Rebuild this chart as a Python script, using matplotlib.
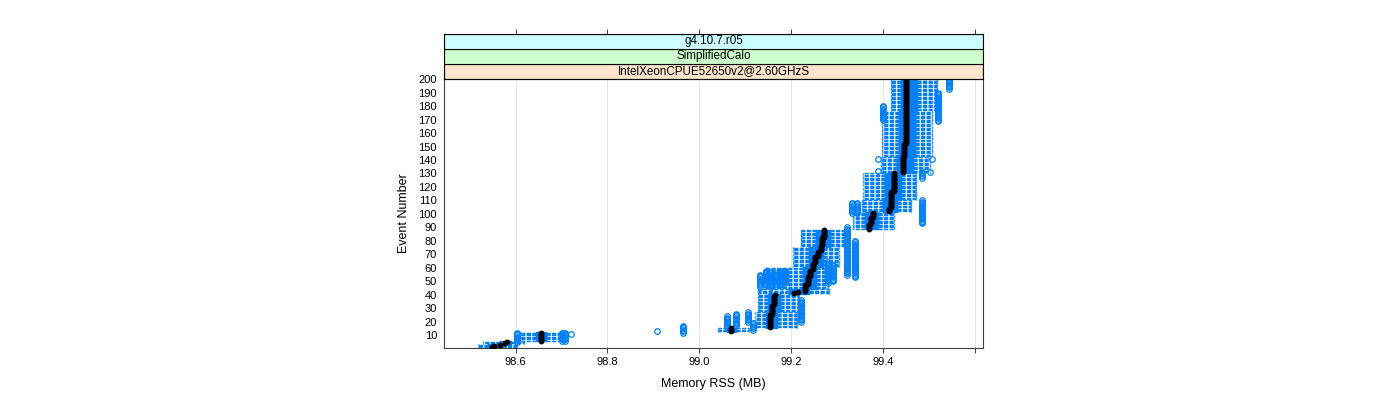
import numpy as np
import matplotlib.pyplot as plt
from matplotlib.collections import LineCollection

plt.rcParams['font.family'] = ['Liberation Sans', 'DejaVu Sans']
plt.rcParams['lines.scale_dashes'] = False

# median memory per event, stored as runs (value, number of events)
med_values = [98.548, 98.553, 98.565, 98.577, 98.580, 98.655, 99.070, 99.155, 99.158,
              99.162, 99.165, 99.206, 99.216, 99.231, 99.236, 99.241, 99.247, 99.253,
              99.259, 99.265, 99.268, 99.271, 99.370, 99.374, 99.378, 99.413, 99.418,
              99.425, 99.443, 99.446, 99.451]
med_counts = [1, 1, 1, 1, 1, 7, 3, 10, 7,
              7, 1, 1, 1, 5, 6, 5, 5, 5,
              4, 4, 6, 6, 4, 5, 4, 3, 12,
              14, 12, 10, 48]

# box / whisker stats for blocks of events
block_first = [1, 4, 6, 13, 16, 28, 41, 45, 61, 76, 89, 102, 111, 131, 143, 177]
block_last = [3, 5, 12, 15, 27, 40, 44, 60, 75, 88, 101, 110, 130, 142, 176, 200]
whisker_lo = [98.518, 98.528, 98.610, 99.040, 99.122, 99.128, 99.128, 99.145,
              99.205, 99.222, 99.335, 99.355, 99.357, 99.395, 99.398, 99.418]
box_lo = [98.540, 98.565, 98.645, 99.060, 99.145, 99.150, 99.195, 99.225,
          99.240, 99.255, 99.360, 99.400, 99.405, 99.430, 99.435, 99.440]
box_hi = [98.570, 98.590, 98.665, 99.080, 99.170, 99.175, 99.240, 99.255,
          99.270, 99.285, 99.390, 99.430, 99.440, 99.465, 99.470, 99.475]
whisker_hi = [98.603, 98.618, 98.700, 99.108, 99.212, 99.218, 99.282, 99.280,
              99.305, 99.315, 99.425, 99.462, 99.472, 99.502, 99.507, 99.518]

# outliers: (first event, last event, value)
out_first = [5, 6, 6, 11, 13, 12, 14, 16, 17, 20, 20,
             46, 47, 46, 48, 47, 49, 49, 50,
             55, 53, 101, 101, 93, 127, 131, 132, 141, 141,
             170, 169, 193]
out_last = [12, 12, 12, 11, 13, 17, 19, 24, 26, 27, 36,
            55, 58, 57, 56, 58, 58, 64, 62,
            90, 80, 108, 108, 110, 131, 131, 132, 141, 141,
            180, 190, 200]
out_value = [98.603, 98.700, 98.708, 98.720, 98.907, 98.965, 99.118, 99.060, 99.080, 99.107, 99.222,
             99.133, 99.146, 99.157, 99.168, 99.176, 99.187, 99.281, 99.292,
             99.322, 99.339, 99.333, 99.344, 99.485, 99.485, 99.502, 99.389, 99.389, 99.508,
             99.400, 99.520, 99.545]

x_ticks = [98.6, 98.8, 99.0, 99.2, 99.4, 99.6]
x_labels = ['98.6', '98.8', '99.0', '99.2', '99.4', '']
y_ticks = list(range(10, 201, 10))

blue = '#0080ff'

events = np.arange(1, 201)
median = np.repeat(med_values, med_counts)
wlo = np.zeros(200); q1 = np.zeros(200); q3 = np.zeros(200); whi = np.zeros(200)
for f, l, a, b, c, d in zip(block_first, block_last, whisker_lo, box_lo, box_hi, whisker_hi):
    sl = slice(f - 1, l)
    wlo[sl], q1[sl], q3[sl], whi[sl] = a, b, c, d

fig = plt.figure(figsize=(14, 4), dpi=100)
ax = fig.add_axes([444 / 1400, 52 / 400, 539 / 1400, 269.5 / 400])

for t in x_ticks:
    ax.axvline(t, color='#e6e6e6', lw=0.8, zorder=0)

h = 0.35
whisk, caps, boxes = [], [], []
for e, a, b, c, d in zip(events, wlo, q1, q3, whi):
    whisk.append([(b, e), (a, e)])
    whisk.append([(c, e), (d, e)])
    caps.append([(a, e - h), (a, e + h)])
    caps.append([(d, e - h), (d, e + h)])
    boxes.append([(b, e - h), (c, e - h), (c, e + h), (b, e + h), (b, e - h)])

ax.add_collection(LineCollection(whisk, colors=blue, linewidths=1.0,
                                 linestyles=[(0, (3.0, 1.0))], zorder=2))
ax.add_collection(LineCollection(caps, colors=blue, linewidths=1.0, zorder=2))
ax.add_collection(LineCollection(boxes, colors=blue, linewidths=1.0, zorder=2))

ox, oy = [], []
for f, l, v in zip(out_first, out_last, out_value):
    for e in range(f, l + 1):
        ox.append(v)
        oy.append(e)
ax.plot(ox, oy, 'o', ls='none', ms=4, mfc='none', mec=blue, mew=0.9, zorder=3)

ax.plot(median, events, 'o', ls='none', ms=4.2, color='black', mec='none', zorder=4)

ax.set_xlim(98.4438, 99.6181)
ax.set_ylim(0.5, 200.5)
ax.set_xticks(x_ticks)
ax.set_xticklabels(x_labels)
ax.set_yticks(y_ticks)
ax.set_yticklabels([str(v) for v in y_ticks])
ax.tick_params(axis='x', direction='out', length=3.6, width=0.7, labelsize=8, pad=3, color='#404040')
ax.tick_params(axis='y', length=0, labelsize=8, pad=5)
for s in ax.spines.values():
    s.set_color('#404040')
    s.set_linewidth(0.8)
ax.set_xlabel('Memory RSS (MB)', fontsize=9, labelpad=8)
ax.set_ylabel('Event Number', fontsize=9, labelpad=6)

# strips
sax = fig.add_axes([444 / 1400, 1 - 78.5 / 400, 539 / 1400, 44.5 / 400])
sax.set_xlim(ax.get_xlim())
sax.set_ylim(0, 3)
strip_text = ['IntelXeonCPUE52650v2@2.60GHzS', 'SimplifiedCalo', 'g4.10.7.r05']
strip_col = ['#ffe5cc', '#ccffcc', '#ccffff']
for i, (txt, col) in enumerate(zip(strip_text, strip_col)):
    sax.axhspan(i, i + 1, facecolor=col, edgecolor='black', lw=0.8)
    sax.text(0.5, (i + 0.5) / 3, txt, transform=sax.transAxes, ha='center', va='center', fontsize=8.4)
sax.set_yticks([])
sax.set_xticks(x_ticks)
sax.xaxis.tick_top()
sax.tick_params(axis='x', direction='out', length=3.6, width=0.7, labeltop=False, color='#404040')
for s in sax.spines.values():
    s.set_color('black')
    s.set_linewidth(0.8)

fig.savefig('out.png', dpi=100)
